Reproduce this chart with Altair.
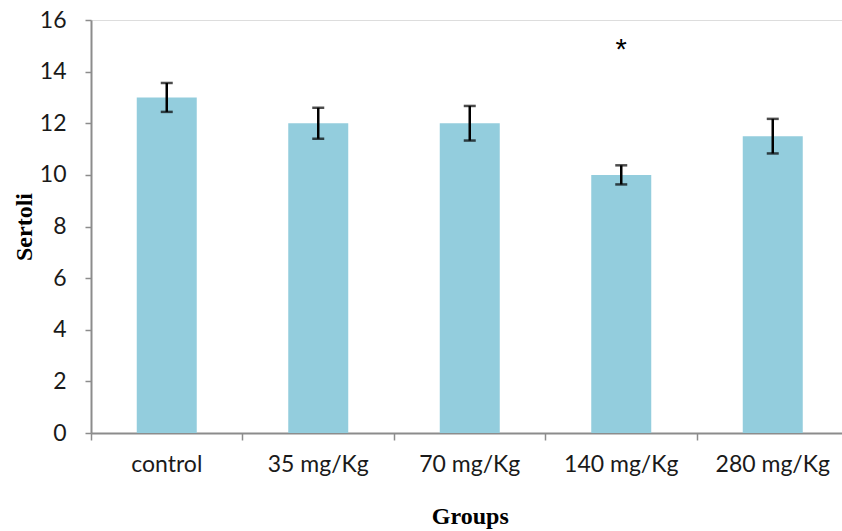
import altair as alt
import pandas as pd

groups = ["control", "35 mg/Kg", "70 mg/Kg", "140 mg/Kg", "280 mg/Kg"]
means = [13.0, 12.0, 12.0, 10.0, 11.5]
errors = [0.56, 0.6, 0.67, 0.37, 0.67]
stars = ["", "", "", "*", ""]
star_y = [14.85, 14.85, 14.85, 14.85, 14.85]

df = pd.DataFrame({"group": groups, "mean": means, "err": errors, "star": stars, "star_y": star_y})
df["lo"] = df["mean"] - df["err"]
df["hi"] = df["mean"] + df["err"]

xscale = alt.Scale(paddingInner=0, paddingOuter=0, range=[0, 757.5])
xenc = alt.X("group:N", sort=groups, title="Groups", scale=xscale,
             axis=alt.Axis(labelAngle=0, bandPosition=0, domainColor="#8c8c8c", tickColor="#8c8c8c",
                           tickSize=7, tickWidth=1.5, domainWidth=2, labelFont="Lato", labelFontSize=23,
                           labelColor="#1a1a1a", labelPadding=13, titleFont="Liberation Serif",
                           titleFontSize=24, titleFontWeight="bold", titleColor="#000000", titlePadding=28,
                           grid=False))
xsimple = alt.X("group:N", sort=groups, scale=xscale)
yscale = alt.Scale(domain=[0, 16])

bars = alt.Chart(df).mark_bar(color="#93CDDD", size=60).encode(
    x=xenc,
    y=alt.Y("mean:Q", scale=yscale, title="Sertoli",
            axis=alt.Axis(values=list(range(0, 17, 2)), grid=False, domainColor="#8c8c8c",
                          tickColor="#8c8c8c", tickSize=6, tickWidth=1.5, domainWidth=2,
                          labelFont="Lato", labelFontSize=23, labelColor="#1a1a1a", labelPadding=19,
                          titleFont="Liberation Serif", titleFontSize=24, titleFontWeight="bold",
                          titleColor="#000000", titlePadding=3)),
)

rule = alt.Chart(df).mark_rule(color="black", strokeWidth=2.5).encode(
    x=xsimple, y=alt.Y("lo:Q", scale=yscale), y2="hi:Q")
cap_lo = alt.Chart(df).mark_tick(color="black", size=12, thickness=2.5, orient="horizontal").encode(
    x=xsimple, y=alt.Y("lo:Q", scale=yscale))
cap_hi = alt.Chart(df).mark_tick(color="black", size=12, thickness=2.5, orient="horizontal").encode(
    x=xsimple, y=alt.Y("hi:Q", scale=yscale))
star = alt.Chart(df).mark_text(fontSize=29, font="Liberation Sans", color="black", baseline="middle").encode(
    x=xsimple, y=alt.Y("star_y:Q", scale=yscale), text="star:N")

chart = alt.layer(bars, rule, cap_lo, cap_hi, star).properties(
    width=751, height=413,
    autosize=alt.AutoSizeParams(type="none"),
    padding={"left": 91, "top": 20, "right": 0, "bottom": 98},
).configure_view(stroke=None).configure(background="white")

chart.save("out.html", embed_options={"renderer": "svg", "actions": False})
